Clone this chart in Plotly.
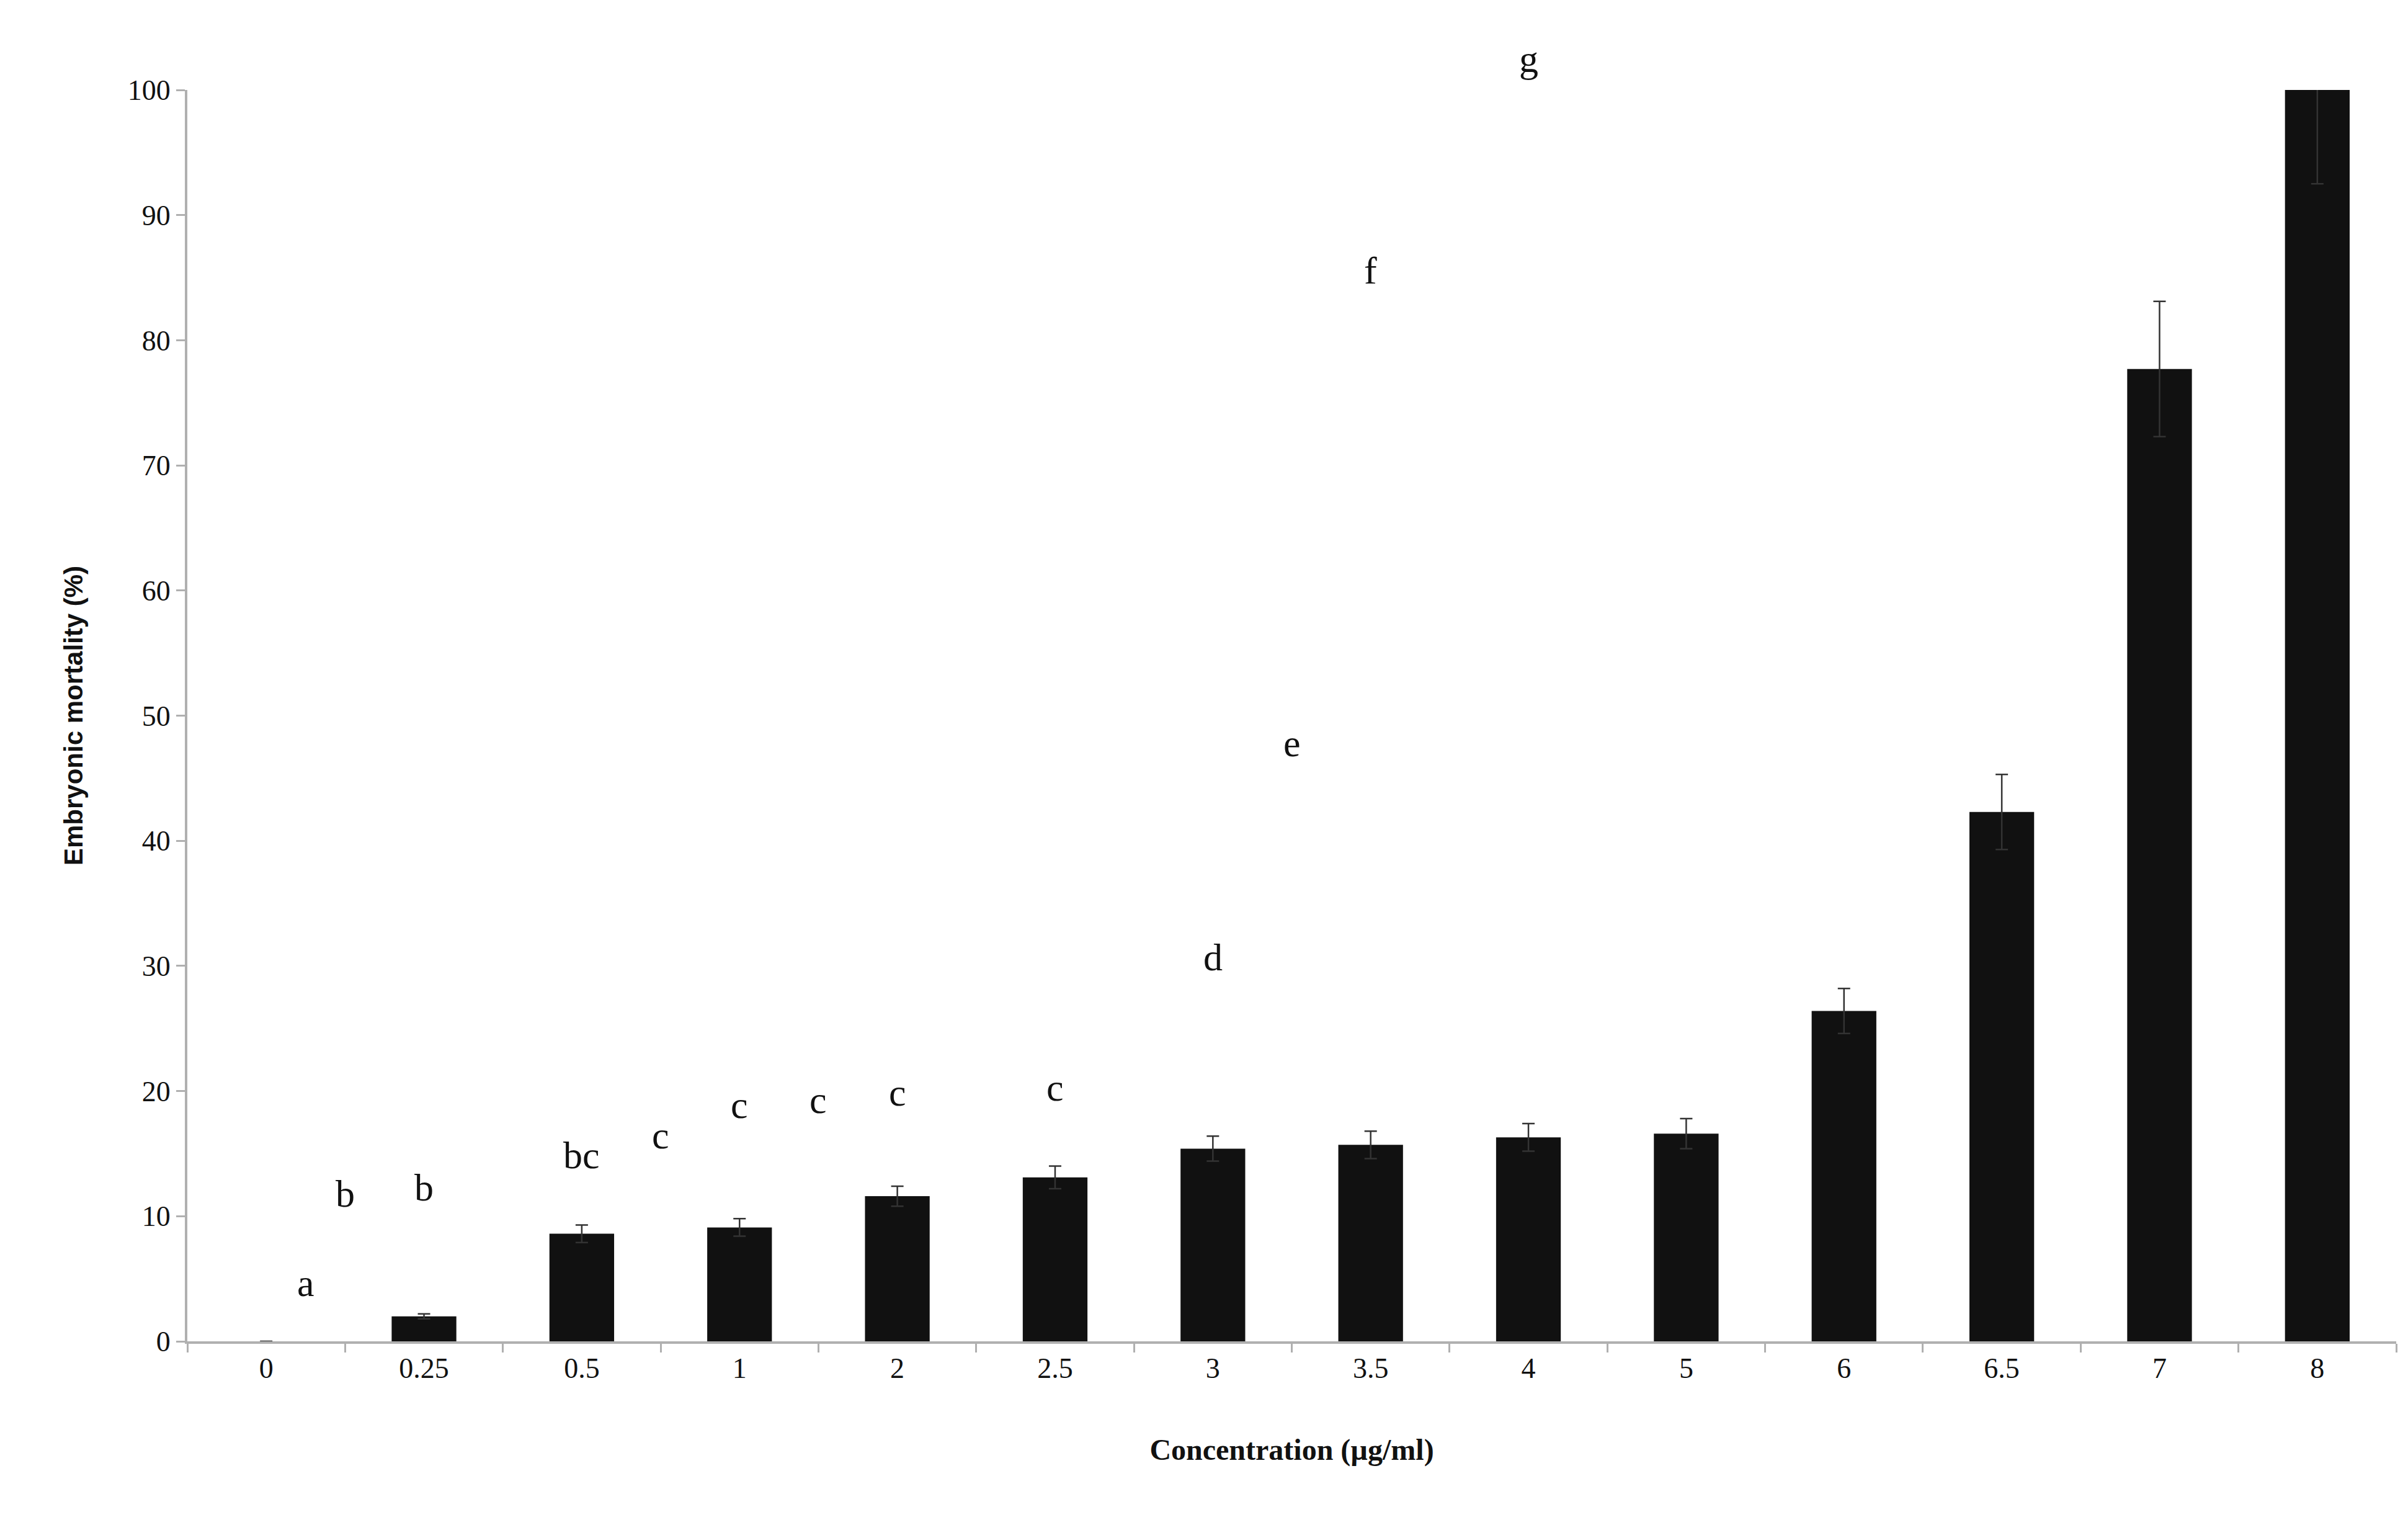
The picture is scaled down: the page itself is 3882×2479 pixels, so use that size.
import plotly.graph_objects as go

# concentrations and mortality
conc = ["0", "0.25", "0.5", "1", "2", "2.5", "3", "3.5", "4", "5", "6", "6.5", "7", "8"]
mortality = [0, 2.0, 8.6, 9.1, 11.6, 13.1, 15.4, 15.7, 16.3, 16.6, 26.4, 42.3, 77.7, 100]
err = [0, 0.2, 0.7, 0.7, 0.8, 0.9, 1.0, 1.1, 1.1, 1.2, 1.8, 3.0, 5.4, 7.5]
letters = ["", "a", "b", "b", "bc", "c", "c", "c", "c", "c", "d", "e", "f", "g"]

fig = go.Figure()
fig.add_trace(go.Bar(
    x=conc, y=mortality,
    marker=dict(color="#111111", line=dict(width=0)),
    error_y=dict(type="data", array=err, color="#333333", thickness=2.5, width=10),
    cliponaxis=False,
))

for c, v, e, lab in zip(conc, mortality, err, letters):
    if lab:
        fig.add_annotation(x=c, y=min(v + e, 100), text=lab, showarrow=False,
                           yanchor="bottom", yshift=14,
                           font=dict(family="Liberation Serif", size=62, color="#111"))

fig.update_layout(
    width=3882, height=2479,
    plot_bgcolor="white", paper_bgcolor="white",
    margin=dict(l=294, r=27, t=137, b=325),
    bargap=0.59,
    showlegend=False,
    font=dict(family="Liberation Serif", color="#111"),
)
fig.update_xaxes(
    showline=True, linecolor="#b0b0b0", linewidth=4,
    ticks="outside", tickcolor="#b0b0b0", ticklen=14, tickwidth=3,
    tickson="boundaries",
    tickfont=dict(size=46, family="Liberation Serif"),
    title=dict(text="<b>Concentration (µg/ml)</b>", font=dict(size=48, family="Liberation Serif"), standoff=90),
)
fig.update_yaxes(
    range=[0, 100], dtick=10, showgrid=False, zeroline=False,
    showline=True, linecolor="#b0b0b0", linewidth=4,
    ticks="outside", tickcolor="#b0b0b0", ticklen=14, tickwidth=3,
    tickfont=dict(size=46, family="Liberation Serif"),
    title=dict(text="<b>Embryonic mortality (%)</b>", font=dict(size=42, family="Liberation Sans"), standoff=60),
)

fig.write_html("out.html")
